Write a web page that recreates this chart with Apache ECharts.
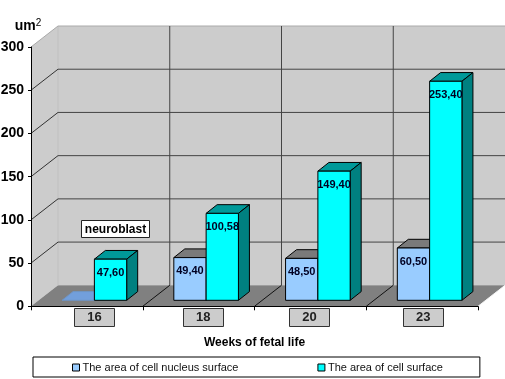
<!DOCTYPE html>
<html>
<head>
<meta charset="utf-8">
<style>html,body{margin:0;padding:0;background:#fff}#c{width:505px;height:379px}</style>
<script src="https://cdn.jsdelivr.net/npm/echarts@6/dist/echarts.min.js"></script>
</head>
<body>
<div id="c"></div>
<script>
var weeks = ['16', '18', '20', '23'];
var nucleusArea = [0, 49.4, 48.5, 60.5];
var cellArea = [47.6, 100.58, 149.4, 253.4];
var nucleusName = 'The area of cell nucleus surface';
var cellName = 'The area of cell surface';
var yMax = 300, yStep = 50;
var FONT = '"Liberation Sans", Arial, sans-serif';

var WALL_DX = 27, WALL_DY = 21;   // depth of the chart box
var BAR_DX = 7.5, BAR_DY = 6;     // where the bars' front faces stand in the box
var BAR_W = 32.3, BAR_DEPTH_X = 11, BAR_DEPTH_Y = 8.7;
var weekLabelShift = [7.5, 4.5, -1, 1];

var poly = function (pts, fill, stroke, lw) {
  return { type: 'polygon', shape: { points: pts },
    style: { fill: fill, stroke: stroke || null, lineWidth: lw || 0 } };
};
var seg = function (a, b, color, lw) {
  return { type: 'line', shape: { x1: a[0], y1: a[1], x2: b[0], y2: b[1] },
    style: { stroke: color, lineWidth: lw || 1, fill: null } };
};

function renderFrame(params, api) {
  if (params.dataIndex > 0) return null;
  var band = api.size([1, 0])[0];
  var xEdge = function (i) { return api.coord([0, 0])[0] + (i - 0.5) * band; };
  var y = function (v) { return api.coord([0, v])[1]; };
  var L = xEdge(0), R = xEdge(weeks.length);
  var y0 = y(0), yT = y(yMax);
  var out = [];
  out.push(poly([[L, yT], [L + WALL_DX, yT - WALL_DY], [R + WALL_DX, yT - WALL_DY], [R + WALL_DX, y0 - WALL_DY], [L + WALL_DX, y0 - WALL_DY], [L, y0]], '#cccccc'));
  out.push(poly([[L, y0], [L + WALL_DX, y0 - WALL_DY], [R + WALL_DX, y0 - WALL_DY], [R, y0]], '#808080'));
  out.push(seg([L + WALL_DX, yT - WALL_DY], [L + WALL_DX, y0 - WALL_DY], '#c0c0c0'));
  out.push(seg([L, yT], [L + WALL_DX, yT - WALL_DY], '#aaaaaa'));
  out.push(seg([L + WALL_DX, yT - WALL_DY], [R + WALL_DX, yT - WALL_DY], '#aaaaaa'));
  out.push(seg([R, y0], [R + WALL_DX, y0 - WALL_DY], '#f4f4f4'));
  for (var v = yStep; v < yMax; v += yStep) {
    out.push(seg([L, y(v)], [L + WALL_DX, y(v) - WALL_DY], '#333333'));
    out.push(seg([L + WALL_DX, y(v) - WALL_DY], [R + WALL_DX, y(v) - WALL_DY], '#444444'));
  }
  for (var i = 1; i < weeks.length; i++) {
    out.push(seg([xEdge(i) + WALL_DX, yT - WALL_DY], [xEdge(i) + WALL_DX, y0 - WALL_DY], '#444444'));
    out.push(seg([xEdge(i), y0], [xEdge(i) + WALL_DX, y0 - WALL_DY], '#111111'));
  }
  return { type: 'group', children: out };
}

function makeBar(side, faceColor, topColor, sideColor) {
  return function (params, api) {
    var i = api.value(0), val = api.value(1);
    var c0 = api.coord([i, 0]), c1 = api.coord([i, val]);
    var cx = c0[0] + BAR_DX;
    var xa = side < 0 ? cx - BAR_W : cx, xb = xa + BAR_W;
    var yb = c0[1] - BAR_DY, yt = c1[1] - BAR_DY;
    var dx = BAR_DEPTH_X, dy = BAR_DEPTH_Y;
    var out = [];
    var zero = val === 0;
    out.push(poly([[xa, yt], [xa + dx, yt - dy], [xb + dx, yt - dy], [xb, yt]],
      zero ? '#729fdc' : topColor, zero ? '#6f94c4' : '#000000', 1));
    if (!zero) {
      out.push(poly([[xb, yt], [xb + dx, yt - dy], [xb + dx, yb - dy], [xb, yb]], sideColor, '#000000', 1));
      out.push({ type: 'rect', shape: { x: xa, y: yt, width: BAR_W, height: yb - yt },
        style: { fill: faceColor, stroke: '#000000', lineWidth: 1 } });
      out.push({ type: 'text', style: {
        text: val.toFixed(2).replace('.', ','), x: (xa + xb) / 2, y: yt + 13.5,
        textAlign: 'center', textVerticalAlign: 'middle',
        font: 'bold 11px ' + FONT, fill: '#000022' } });
    }
    return { type: 'group', children: out };
  };
}

function renderWeekLabel(params, api) {
  var i = api.value(0);
  var c = api.coord([i, 0]);
  var cx = c[0] + weekLabelShift[i];
  return { type: 'group', children: [
    { type: 'rect', shape: { x: Math.round(cx - 20) + 0.5, y: c[1] + 2.2, width: 40, height: 18 },
      style: { fill: '#cccccc', stroke: '#333333', lineWidth: 1 } },
    { type: 'text', style: { text: weeks[i], x: cx, y: c[1] + 11.5,
      textAlign: 'center', textVerticalAlign: 'middle',
      font: 'bold 13px ' + FONT, fill: '#222222' } }
  ] };
}

var pairs = function (arr) { return arr.map(function (v, i) { return [i, v]; }); };

var chart = echarts.init(document.getElementById('c'), null, { renderer: 'canvas' });
chart.setOption({
  animation: false,
  backgroundColor: '#ffffff',
  grid: { left: 31, right: 27, top: 47, bottom: 72.7, containLabel: false, outerBoundsMode: 'none' },
  xAxis: {
    type: 'category', data: weeks, z: 5,
    axisLine: { lineStyle: { color: '#000', width: 1 } },
    axisTick: { show: true, length: 4, alignWithLabel: false, lineStyle: { color: '#000' } },
    axisLabel: { show: false },
    splitLine: { show: false },
    name: 'Weeks of fetal life', nameLocation: 'middle', nameGap: 30,
    nameTextStyle: { fontFamily: FONT, fontWeight: 'bold', fontSize: 12, color: '#000' }
  },
  yAxis: {
    type: 'value', min: 0, max: yMax, interval: yStep, z: 5,
    axisLine: { show: true, lineStyle: { color: '#000', width: 1 } },
    axisTick: { show: true, length: 3, lineStyle: { color: '#000' } },
    axisLabel: { fontFamily: FONT, fontWeight: 'bold', fontSize: 14, color: '#000', margin: 7 },
    splitLine: { show: false },
    name: '{a|um}{b|2}', nameLocation: 'end', nameGap: 13,
    nameTextStyle: { align: 'center', padding: [0, 6, 0, 0],
      rich: {
        a: { fontFamily: FONT, fontWeight: 'bold', fontSize: 14, color: '#000' },
        b: { fontFamily: FONT, fontSize: 10, color: '#000', verticalAlign: 'top', padding: [0, 0, 6, 0] }
      } }
  },
  legend: {
    show: true, left: 33, top: 357, orient: 'horizontal',
    padding: [5, 37, 4, 39], itemGap: 79, itemWidth: 7, itemHeight: 7,
    backgroundColor: '#ffffff', borderColor: '#000000', borderWidth: 1, borderRadius: 0,
    textStyle: { fontFamily: FONT, fontSize: 11, color: '#111111', padding: [0, 0, 0, -2] },
    data: [
      { name: nucleusName, icon: 'rect', itemStyle: { color: '#99ccff', borderColor: '#000', borderWidth: 1 } },
      { name: cellName, icon: 'rect', itemStyle: { color: '#00ffff', borderColor: '#000', borderWidth: 1 } }
    ]
  },
  graphic: [
    { type: 'rect', z: 20, shape: { x: 81.5, y: 220.5, width: 68, height: 17 },
      style: { fill: '#ffffff', stroke: '#222222', lineWidth: 1 } },
    { type: 'text', z: 21, style: { text: 'neuroblast', x: 115.5, y: 229.5, textAlign: 'center', textVerticalAlign: 'middle',
      font: 'bold 12px ' + FONT, fill: '#000000' } }
  ],
  series: [
    { type: 'custom', name: 'frame', z: 1, silent: true, clip: false, renderItem: renderFrame, data: [[0, 0]], encode: { x: 0, y: 1 } },
    { type: 'custom', name: nucleusName, z: 6, clip: false, itemStyle: { color: '#99ccff' },
      renderItem: makeBar(-1, '#99ccff', '#7a7a7a', '#4d6680'), data: pairs(nucleusArea), encode: { x: 0, y: 1 } },
    { type: 'custom', name: cellName, z: 7, clip: false, itemStyle: { color: '#00ffff' },
      renderItem: makeBar(1, '#00ffff', '#009999', '#008080'), data: pairs(cellArea), encode: { x: 0, y: 1 } },
    { type: 'custom', name: 'weeks', z: 8, silent: true, clip: false, renderItem: renderWeekLabel, data: pairs(weeks.map(function () { return 0; })), encode: { x: 0, y: 1 } }
  ]
});
</script>
</body>
</html>
